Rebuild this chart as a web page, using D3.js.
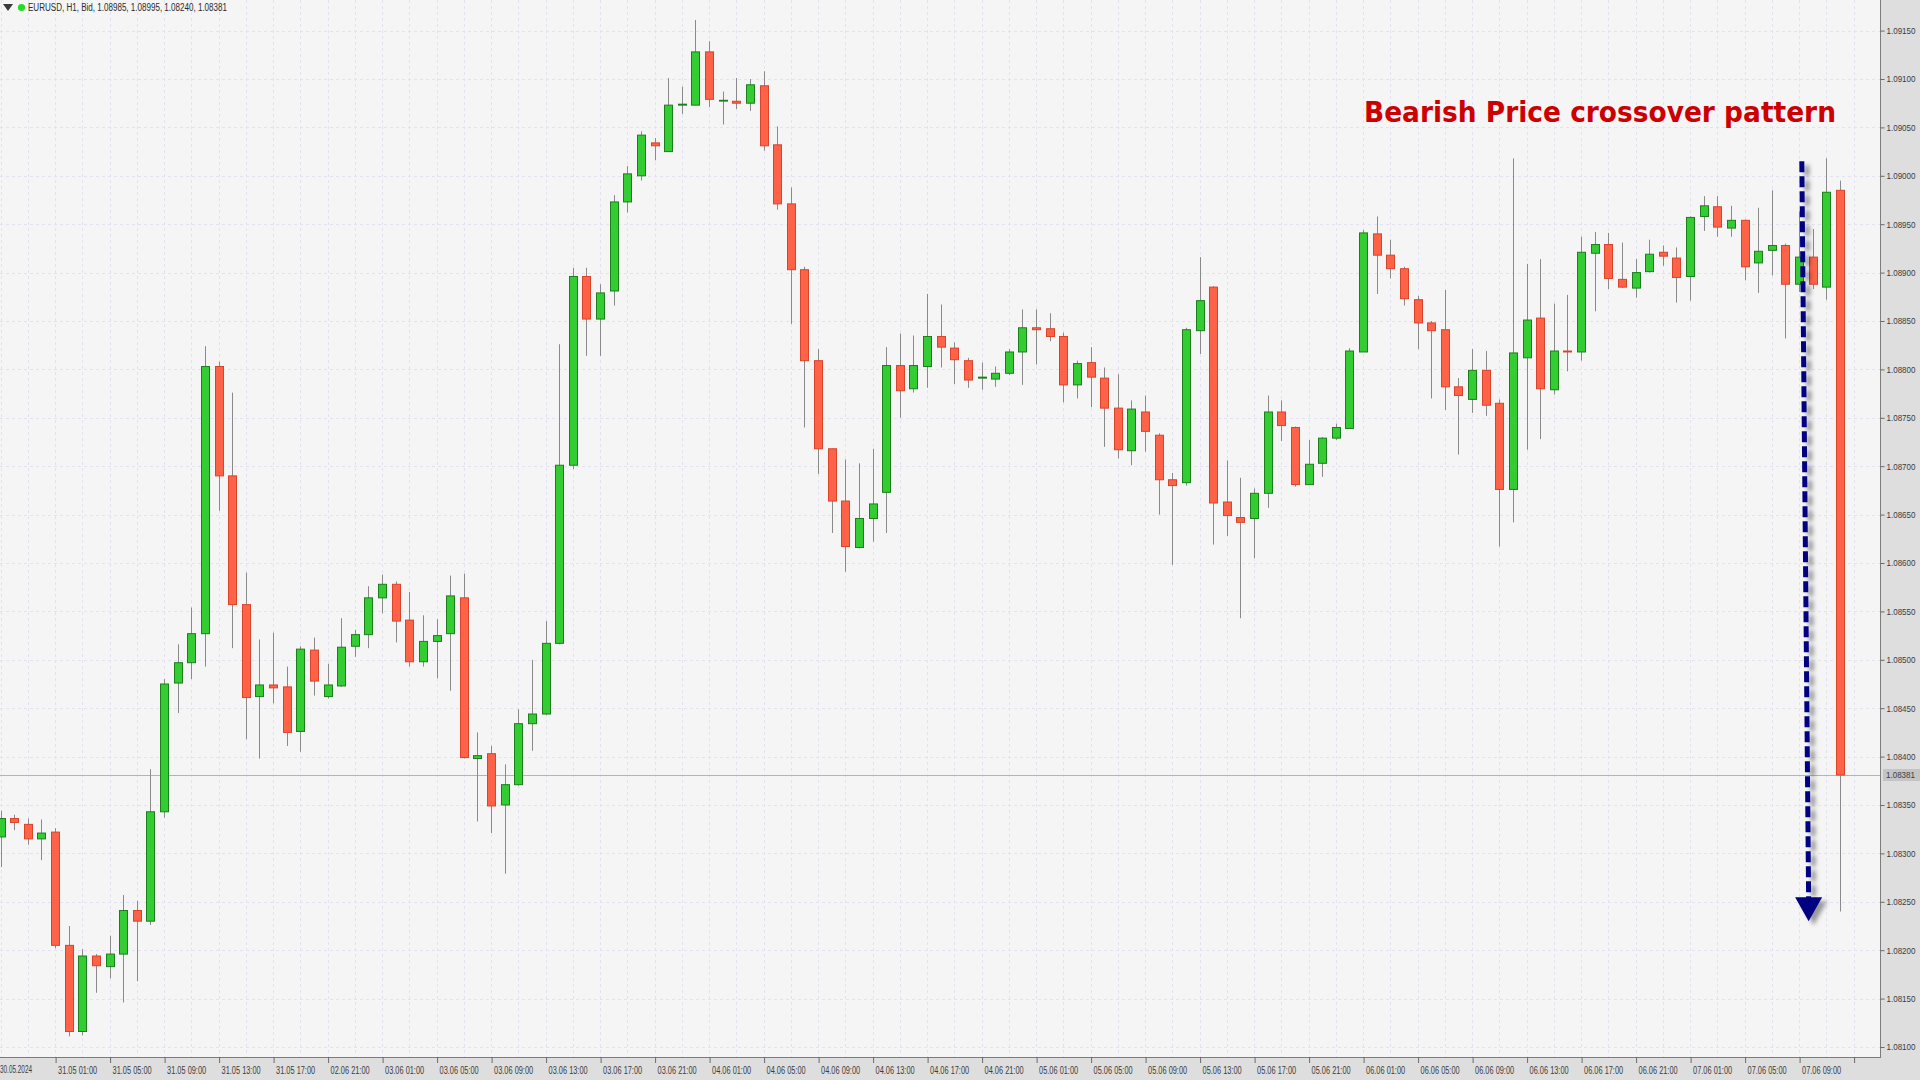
<!DOCTYPE html>
<html><head><meta charset="utf-8">
<script src="https://cdn.jsdelivr.net/npm/d3@7"></script>
<style>html,body{margin:0;padding:0;background:#dedede;overflow:hidden}</style>
</head><body>
<svg id="c" width="1920" height="1080"></svg>
<script>
// ---- DATA (EURUSD H1, bar index 0 = 30.05 21:00) ----
const opens = [1.08317,1.08336,1.08330,1.08315,1.08322,1.08205,1.08116,1.08194,1.08183,1.08196,
1.08241,1.08230,1.08343,1.08476,1.08497,1.08527,1.08803,1.08690,1.08557,1.08462,
1.08474,1.08472,1.08426,1.08510,1.08462,1.08473,1.08514,1.08526,1.08564,1.08578,
1.08541,1.08498,1.08519,1.08527,1.08564,1.08398,1.08403,1.08350,1.08371,1.08434,
1.08444,1.08517,1.08701,1.08896,1.08852,1.08881,1.08973,1.09000,1.09034,1.09025,
1.09073,1.09073,1.09128,1.09078,1.09077,1.09075,1.09093,1.09032,1.08971,1.08903,
1.08809,1.08718,1.08664,1.08616,1.08646,1.08673,1.08804,1.08780,1.08803,1.08834,
1.08822,1.08809,1.08791,1.08790,1.08796,1.08818,1.08843,1.08842,1.08834,1.08784,
1.08807,1.08791,1.08760,1.08716,1.08756,1.08732,1.08686,1.08683,1.08840,1.08885,
1.08663,1.08647,1.08646,1.08672,1.08756,1.08740,1.08681,1.08703,1.08729,1.08739,
1.08818,1.08940,1.08918,1.08904,1.08872,1.08848,1.08841,1.08782,1.08769,1.08799,
1.08765,1.08676,1.08812,1.08853,1.08779,1.08819,1.08818,1.08920,1.08929,1.08893,
1.08884,1.08901,1.08921,1.08915,1.08896,1.08958,1.08968,1.08946,1.08954,1.08910,
1.08923,1.08928,1.08888,1.08916,1.08885,1.08985];
const highs = [1.08344,1.08340,1.08336,1.08335,1.08326,1.08225,1.08201,1.08196,1.08215,1.08257,
1.08251,1.08387,1.08480,1.08516,1.08554,1.08824,1.08808,1.08776,1.08590,1.08521,
1.08528,1.08493,1.08514,1.08523,1.08496,1.08543,1.08531,1.08576,1.08588,1.08581,
1.08570,1.08546,1.08542,1.08587,1.08589,1.08425,1.08411,1.08392,1.08449,1.08500,
1.08540,1.08826,1.08905,1.08905,1.08888,1.08980,1.09010,1.09046,1.09039,1.09101,
1.09092,1.09161,1.09139,1.09087,1.09101,1.09100,1.09108,1.09051,1.08988,1.08906,
1.08821,1.08718,1.08707,1.08703,1.08718,1.08823,1.08837,1.08835,1.08878,1.08867,
1.08828,1.08812,1.08807,1.08803,1.08821,1.08862,1.08862,1.08858,1.08838,1.08809,
1.08823,1.08802,1.08795,1.08768,1.08773,1.08734,1.08693,1.08843,1.08916,1.08886,
1.08706,1.08688,1.08677,1.08773,1.08768,1.08741,1.08727,1.08730,1.08744,1.08822,
1.08944,1.08958,1.08934,1.08906,1.08876,1.08850,1.08882,1.08791,1.08821,1.08819,
1.08769,1.09018,1.08909,1.08914,1.08868,1.08877,1.08937,1.08942,1.08941,1.08931,
1.08914,1.08934,1.08928,1.08926,1.08958,1.08979,1.08979,1.08969,1.08955,1.08967,
1.08985,1.08930,1.08963,1.08945,1.09018,1.08995];
const lows = [1.08286,1.08324,1.08309,1.08293,1.08202,1.08111,1.08112,1.08156,1.08171,1.08146,
1.08168,1.08226,1.08337,1.08445,1.08480,1.08493,1.08654,1.08512,1.08418,1.08398,
1.08455,1.08411,1.08405,1.08463,1.08460,1.08472,1.08503,1.08512,1.08548,1.08518,
1.08493,1.08493,1.08481,1.08468,1.08398,1.08333,1.08321,1.08279,1.08370,1.08406,
1.08443,1.08516,1.08697,1.08814,1.08814,1.08866,1.08962,1.08995,1.09016,1.09025,
1.09064,1.09073,1.09071,1.09053,1.09069,1.09067,1.09026,1.08965,1.08847,1.08740,
1.08692,1.08631,1.08591,1.08615,1.08622,1.08631,1.08750,1.08776,1.08781,1.08802,
1.08785,1.08781,1.08779,1.08782,1.08794,1.08784,1.08805,1.08829,1.08766,1.08770,
1.08761,1.08720,1.08708,1.08701,1.08715,1.08650,1.08598,1.08680,1.08816,1.08619,
1.08628,1.08543,1.08605,1.08657,1.08726,1.08679,1.08681,1.08689,1.08727,1.08739,
1.08818,1.08878,1.08894,1.08866,1.08821,1.08770,1.08758,1.08712,1.08755,1.08752,
1.08617,1.08642,1.08717,1.08728,1.08774,1.08798,1.08809,1.08860,1.08883,1.08884,
1.08874,1.08900,1.08907,1.08869,1.08871,1.08943,1.08937,1.08937,1.08892,1.08879,
1.08897,1.08832,1.08880,1.08883,1.08872,1.08240];
const closes = [1.08336,1.08332,1.08315,1.08321,1.08205,1.08116,1.08194,1.08184,1.08196,1.08241,
1.08230,1.08343,1.08475,1.08497,1.08527,1.08803,1.08690,1.08557,1.08461,1.08474,
1.08471,1.08425,1.08511,1.08478,1.08474,1.08513,1.08526,1.08564,1.08578,1.08540,
1.08498,1.08519,1.08525,1.08566,1.08399,1.08401,1.08349,1.08371,1.08434,1.08444,
1.08517,1.08701,1.08896,1.08852,1.08879,1.08973,1.09002,1.09042,1.09031,1.09073,
1.09074,1.09128,1.09079,1.09078,1.09075,1.09094,1.09031,1.08971,1.08903,1.08809,
1.08718,1.08664,1.08617,1.08646,1.08661,1.08804,1.08778,1.08804,1.08834,1.08823,
1.08810,1.08789,1.08792,1.08796,1.08818,1.08843,1.08841,1.08834,1.08784,1.08806,
1.08792,1.08760,1.08717,1.08759,1.08736,1.08686,1.08680,1.08841,1.08871,1.08662,
1.08649,1.08642,1.08672,1.08756,1.08742,1.08681,1.08702,1.08729,1.08740,1.08819,
1.08941,1.08918,1.08904,1.08873,1.08848,1.08840,1.08782,1.08773,1.08799,1.08763,
1.08676,1.08817,1.08851,1.08780,1.08819,1.08818,1.08921,1.08929,1.08894,1.08885,
1.08900,1.08919,1.08917,1.08895,1.08957,1.08969,1.08947,1.08954,1.08906,1.08922,
1.08928,1.08888,1.08916,1.08888,1.08983,1.08381];
const firstDateLabel = "30.05.2024";
const timeLabels = ["31.05 01:00","31.05 05:00","31.05 09:00","31.05 13:00","31.05 17:00",
"02.06 21:00","03.06 01:00","03.06 05:00","03.06 09:00","03.06 13:00","03.06 17:00","03.06 21:00",
"04.06 01:00","04.06 05:00","04.06 09:00","04.06 13:00","04.06 17:00","04.06 21:00",
"05.06 01:00","05.06 05:00","05.06 09:00","05.06 13:00","05.06 17:00","05.06 21:00",
"06.06 01:00","06.06 05:00","06.06 09:00","06.06 13:00","06.06 17:00","06.06 21:00",
"07.06 01:00","07.06 05:00","07.06 09:00",""];
const priceTicks = [1.08100,1.08150,1.08200,1.08250,1.08300,1.08350,1.08400,1.08450,1.08500,1.08550,
1.08600,1.08650,1.08700,1.08750,1.08800,1.08850,1.08900,1.08950,1.09000,1.09050,1.09100,1.09150];
const lastPrice = 1.08381;
const symbolInfo = "EURUSD, H1, Bid, 1.08985, 1.08995, 1.08240, 1.08381";
const titleText = "Bearish Price crossover pattern";
const arrowFrom = [132.2, 1.09015];   // bar index, price
const arrowTo = [132.7, 1.08230];

// ---- LAYOUT ----
const W = 1920, H = 1080, plotR = 1880, plotB = 1057;
const svg = d3.select("#c");
const n = opens.length;
const x = d3.scaleLinear().domain([0, n - 1]).range([0.6, 0.6 + (n - 1) * 13.625]);
const y = d3.scaleLinear().domain([1.08100, 1.09150]).range([1047, 30.6]);
const labelFont = "Liberation Sans, Arial, sans-serif";

const defs = svg.append("defs");
const clip = defs.append("clipPath").attr("id", "plotclip");
clip.append("rect").attr("x", 0).attr("y", 0).attr("width", plotR).attr("height", plotB);
const f = defs.append("filter").attr("id", "sh").attr("x", "-50%").attr("y", "-10%").attr("width", "200%").attr("height", "120%");
f.append("feDropShadow").attr("dx", 5).attr("dy", 4).attr("stdDeviation", 2.2)
  .attr("flood-color", "#000").attr("flood-opacity", 0.38);

svg.append("rect").attr("width", W).attr("height", H).attr("fill", "#dedede");
svg.append("rect").attr("width", plotR).attr("height", plotB).attr("fill", "#f5f5f5");

const plot = svg.append("g").attr("clip-path", "url(#plotclip)");

// grid
const gridColor = "#e2e2f0";
plot.append("g").selectAll("line").data(priceTicks).join("line")
  .attr("x1", 0).attr("x2", plotR)
  .attr("y1", d => Math.round(y(d)) + 0.5).attr("y2", d => Math.round(y(d)) + 0.5)
  .attr("stroke", gridColor).attr("stroke-dasharray", "3,3");
plot.append("g").selectAll("line").data(d3.range(0, n + 2, 2)).join("line")
  .attr("y1", 0).attr("y2", plotB)
  .attr("x1", d => Math.round(x(d)) + 0.5).attr("x2", d => Math.round(x(d)) + 0.5)
  .attr("stroke", gridColor).attr("stroke-dasharray", "3,3");

// last price line
plot.append("line").attr("x1", 0).attr("x2", plotR)
  .attr("y1", Math.round(y(lastPrice)) + 0.5).attr("y2", Math.round(y(lastPrice)) + 0.5)
  .attr("stroke", "#b4b4b4").attr("stroke-width", 1);

// candles
const bars = d3.range(n).map(i => ({i, o: opens[i], h: highs[i], l: lows[i], c: closes[i]}));
const cg = plot.append("g");
cg.selectAll("line.wick").data(bars).join("line").attr("class", "wick")
  .attr("x1", d => Math.round(x(d.i)) + 0.5).attr("x2", d => Math.round(x(d.i)) + 0.5)
  .attr("y1", d => y(d.h)).attr("y2", d => y(d.l))
  .attr("stroke", "#8a8a8a").attr("stroke-width", 1);
cg.selectAll("rect.body").data(bars).join("rect").attr("class", "body")
  .attr("x", d => Math.round(x(d.i)) - 4 + 0.5)
  .attr("width", 8)
  .attr("y", d => y(Math.max(d.o, d.c)))
  .attr("height", d => Math.max(0.8, Math.abs(y(d.o) - y(d.c))))
  .attr("fill", d => d.c >= d.o ? "#33cc33" : "#ff6347")
  .attr("stroke", d => d.c >= d.o ? "#1c7f1c" : "#d9432b")
  .attr("stroke-width", 1);

// axes frame
svg.append("line").attr("x1", plotR + 0.5).attr("x2", plotR + 0.5).attr("y1", 0).attr("y2", plotB + 1)
  .attr("stroke", "#7c7c7c");
svg.append("line").attr("x1", 0).attr("x2", plotR + 1).attr("y1", plotB + 0.5).attr("y2", plotB + 0.5)
  .attr("stroke", "#7c7c7c");

// right price axis
const yAxis = d3.axisRight(y).tickValues(priceTicks).tickFormat(d3.format(".5f")).tickSize(4).tickPadding(2);
const ya = svg.append("g").attr("transform", `translate(${plotR + 0.5},0)`).call(yAxis);
ya.select(".domain").remove();
ya.selectAll(".tick line").attr("stroke", "#6a6a6a");
ya.selectAll(".tick text").attr("fill", "#3c3c3c").attr("font-family", labelFont)
  .attr("font-size", 9).attr("textLength", 29).attr("lengthAdjust", "spacingAndGlyphs");

// last price label
const lp = svg.append("g").attr("transform", `translate(${plotR + 3},${Math.round(y(lastPrice))})`);
lp.append("rect").attr("x", 0).attr("y", -6).attr("width", 37).attr("height", 12).attr("fill", "#c4c4c4");
lp.append("text").attr("x", 3).attr("y", 0).attr("dy", "0.35em").text(d3.format(".5f")(lastPrice))
  .attr("fill", "#3c3c3c").attr("font-family", labelFont)
  .attr("font-size", 9).attr("textLength", 29).attr("lengthAdjust", "spacingAndGlyphs");

// bottom time axis
const tickIdx = d3.range(4, 4 + timeLabels.length * 4, 4);
const xAxis = d3.axisBottom(x).tickValues(tickIdx).tickFormat((d, k) => timeLabels[k]).tickSize(6).tickPadding(4);
const xa = svg.append("g").attr("transform", `translate(0.5,${plotB})`).call(xAxis);
xa.select(".domain").remove();
xa.selectAll(".tick line").attr("stroke", "#6a6a6a");
xa.selectAll(".tick text").attr("text-anchor", "start").attr("x", 2)
  .attr("fill", "#3c3c3c").attr("font-family", labelFont)
  .attr("font-size", 10).attr("lengthAdjust", "spacingAndGlyphs")
  .each(function(d, k) { if (timeLabels[k]) d3.select(this).attr("textLength", 39); });
svg.append("text").attr("x", 0).attr("y", plotB + 16).text(firstDateLabel)
  .attr("fill", "#3c3c3c").attr("font-family", labelFont)
  .attr("font-size", 10).attr("textLength", 32).attr("lengthAdjust", "spacingAndGlyphs");

// header
svg.append("path").attr("d", "M3,4 L13,4 L8,11 Z").attr("fill", "#3a3a3a");
svg.append("circle").attr("cx", 21.5).attr("cy", 7.5).attr("r", 3.6).attr("fill", "#22dd22");
svg.append("text").attr("x", 28).attr("y", 11).text(symbolInfo)
  .attr("fill", "#2a2a2a").attr("font-family", labelFont)
  .attr("font-size", 10).attr("textLength", 199).attr("lengthAdjust", "spacingAndGlyphs");

// title annotation
svg.append("text").attr("x", 1364).attr("y", 122).text(titleText)
  .attr("fill", "#cc0000").attr("font-family", "DejaVu Sans, Verdana, sans-serif")
  .attr("font-weight", "bold").attr("font-size", 28)
  .attr("textLength", 472).attr("lengthAdjust", "spacingAndGlyphs");

// dashed arrow
const ag = svg.append("g").attr("filter", "url(#sh)");
const ax1 = x(arrowFrom[0]), ay1 = y(arrowFrom[1]), ax2 = x(arrowTo[0]), ay2 = y(arrowTo[1]);
ag.append("line").attr("x1", ax1).attr("y1", ay1).attr("x2", ax2).attr("y2", ay2 - 22)
  .attr("stroke", "#000080").attr("stroke-width", 5).attr("stroke-dasharray", "11,4");
ag.append("path")
  .attr("d", `M${ax2 - 13.5},${ay2 - 24} L${ax2 + 13.5},${ay2 - 24} L${ax2},${ay2} Z`)
  .attr("fill", "#000080");
</script>
</body></html>
